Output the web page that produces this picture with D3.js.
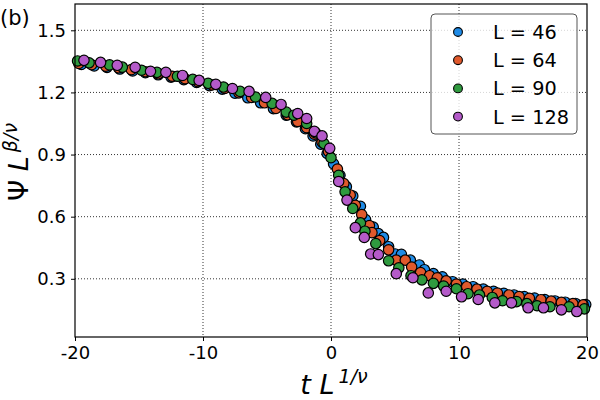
<!DOCTYPE html>
<html><head><meta charset="utf-8">
<script src="https://cdn.jsdelivr.net/npm/d3@7"></script>
<style>body{margin:0;background:#fff}svg{display:block;font-family:"DejaVu Sans",sans-serif}</style>
</head><body>
<svg id="c" width="600" height="400"></svg>
<script>
const seriesNames = ["L = 46", "L = 64", "L = 90", "L = 128"];
const seriesColors = ["#1f8be6", "#e0592c", "#2f9a3f", "#b45ac9"];
const xTicks = [-20, -10, 0, 10, 20];
const yTicks = [0.3, 0.6, 0.9, 1.2, 1.5];

const xL46 = [-19.5,-18.5,-17.5,-16.5,-15.5,-14.5,-13.5,-12.5,-11.5,-10.5,-9.5,-8.5,-7.5,-6.5,-5.5,-4.5,-3.5,-2.7,-2.0,-1.4,-0.8,-0.3,0.2,0.7,1.2,1.7,2.3,2.7,3.3,3.7,4.1,4.5,5.0,5.5,6.2,6.9,7.3,8.0,8.7,9.5,10.3,11.1,11.9,12.7,13.5,14.3,15.1,15.9,16.7,17.5,18.3,19.1,19.9];
const yL46 = [1.335,1.328,1.321,1.313,1.304,1.295,1.285,1.274,1.262,1.248,1.233,1.216,1.196,1.174,1.150,1.122,1.090,1.058,1.025,0.990,0.950,0.905,0.855,0.800,0.745,0.700,0.650,0.586,0.550,0.518,0.500,0.455,0.420,0.418,0.390,0.367,0.344,0.325,0.310,0.286,0.275,0.262,0.250,0.240,0.230,0.222,0.214,0.207,0.200,0.193,0.187,0.181,0.176];

const xL64 = [-19.7,-18.7,-17.6,-16.6,-15.6,-14.5,-13.5,-12.4,-11.4,-10.4,-9.3,-8.3,-7.2,-6.2,-5.2,-4.3,-3.4,-2.6,-1.9,-1.3,-0.7,-0.2,0.5,1.0,1.5,1.9,2.4,3.0,3.2,3.8,4.5,5.1,5.8,6.3,7.0,7.7,8.3,9.0,9.8,10.6,11.4,12.2,13.0,13.9,14.7,15.5,16.4,17.2,18.0,18.9,19.7];
const yL64 = [1.340,1.334,1.327,1.319,1.310,1.300,1.290,1.278,1.266,1.252,1.236,1.219,1.198,1.176,1.150,1.123,1.092,1.060,1.030,0.998,0.960,0.915,0.830,0.760,0.705,0.655,0.610,0.557,0.523,0.485,0.440,0.390,0.390,0.357,0.330,0.315,0.305,0.290,0.275,0.262,0.250,0.240,0.231,0.222,0.214,0.206,0.199,0.192,0.186,0.180,0.174];

const xL90 = [-19.8,-18.9,-17.3,-16.3,-14.8,-13.6,-12.0,-10.8,-9.6,-8.4,-7.1,-5.9,-4.6,-3.5,-2.9,-1.9,-1.2,-0.55,0.0,0.6,1.1,1.7,2.3,2.65,3.5,4.5,5.3,6.25,7.1,8.0,8.8,9.8,10.7,11.6,12.6,13.4,14.5,15.3,16.1,17.1,18.6,19.8];
const yL90 = [1.352,1.343,1.333,1.322,1.307,1.297,1.278,1.263,1.244,1.226,1.205,1.178,1.147,1.105,1.090,1.050,1.005,0.953,0.885,0.800,0.720,0.640,0.570,0.530,0.470,0.387,0.353,0.315,0.295,0.278,0.265,0.252,0.228,0.222,0.210,0.194,0.190,0.180,0.170,0.165,0.165,0.155];

const xL128 = [-19.3,-18.0,-16.7,-15.3,-14.1,-12.9,-11.6,-10.3,-9.0,-7.7,-6.4,-5.1,-3.9,-2.6,-1.9,-1.3,-0.7,-0.1,0.6,1.25,1.9,2.6,3.1,3.7,5.1,6.4,7.6,9.0,10.2,11.5,12.8,14.1,15.4,16.6,18.0,19.2];
const yL128 = [1.355,1.345,1.331,1.321,1.302,1.297,1.282,1.258,1.239,1.219,1.205,1.176,1.142,1.098,1.074,1.012,0.990,0.930,0.770,0.680,0.547,0.500,0.420,0.417,0.325,0.305,0.232,0.240,0.213,0.200,0.184,0.184,0.160,0.160,0.150,0.142];

const seriesX = [xL46, xL64, xL90, xL128];
const seriesY = [yL46, yL64, yL90, yL128];

const svg = d3.select("#c");
const mLeft = 75, mRight = 587, mTop = 4, mBottom = 337;
const x = d3.scaleLinear().domain([-20, 20]).range([mLeft, mRight]);
const y = d3.scaleLinear().domain([0.019, 1.627]).range([mBottom, mTop]);

// grid
const grid = svg.append("g").attr("stroke", "#000").attr("stroke-width", 0.8).attr("stroke-dasharray", "1,2");
grid.selectAll(".gx").data(xTicks.slice(1, -1)).join("line")
  .attr("x1", d => x(d)).attr("x2", d => x(d)).attr("y1", mTop).attr("y2", mBottom);
grid.selectAll(".gy").data(yTicks).join("line")
  .attr("y1", d => y(d)).attr("y2", d => y(d)).attr("x1", mLeft).attr("x2", mRight);

// points
seriesX.forEach((xs, i) => {
  const data = xs.map((v, j) => [v, seriesY[i][j]]);
  svg.append("g").selectAll("circle").data(data).join("circle")
    .attr("cx", d => x(d[0])).attr("cy", d => y(d[1])).attr("r", 5.2)
    .attr("fill", seriesColors[i]).attr("stroke", "#000").attr("stroke-width", 1.2);
});

// axes
const xAxis = d3.axisBottom(x).tickValues(xTicks).tickSize(4).tickPadding(5).tickFormat(d3.format("d"));
const yAxis = d3.axisLeft(y).tickValues(yTicks).tickSize(4).tickPadding(5).tickFormat(d3.format(".1f"));
const gx = svg.append("g").attr("transform", `translate(0,${mBottom})`).call(xAxis);
const gy = svg.append("g").attr("transform", `translate(${mLeft},0)`).call(yAxis);
[gx, gy].forEach(g => {
  g.select(".domain").remove();
  g.selectAll("text").attr("font-size", 18).attr("fill", "#000").attr("font-family", "DejaVu Sans");
  g.selectAll("line").attr("stroke", "#000").attr("stroke-width", 1);
});
gx.selectAll("text").text(d => d < 0 ? "-" + Math.abs(d) : d);

// frame
svg.append("rect").attr("x", mLeft).attr("y", mTop).attr("width", mRight - mLeft).attr("height", mBottom - mTop)
  .attr("fill", "none").attr("stroke", "#000").attr("stroke-width", 1.2);

// legend
const lg = svg.append("g");
lg.append("rect").attr("x", 431).attr("y", 14).attr("width", 146).attr("height", 120).attr("rx", 4)
  .attr("fill", "#fff").attr("fill-opacity", 0.8).attr("stroke", "#555").attr("stroke-width", 1);
seriesNames.forEach((n, i) => {
  const cy = 32 + i * 28.2;
  lg.append("circle").attr("cx", 458).attr("cy", cy).attr("r", 4.4)
    .attr("fill", seriesColors[i]).attr("stroke", "#000").attr("stroke-width", 1.1);
  lg.append("text").attr("x", 493).attr("y", cy + 7).attr("font-size", 19.3).attr("fill", "#000").text(n);
});

// labels
svg.append("text").attr("x", 0).attr("y", 25).attr("font-size", 21).text("(b)");
const xl = svg.append("text").attr("x", 334).attr("y", 394).attr("text-anchor", "middle").attr("font-size", 27);
xl.append("tspan").attr("font-style", "italic").text("t L");
xl.append("tspan").attr("font-size", 19).attr("dy", -11).attr("dx", 4).attr("font-style", "italic").text("1/ν");
const yl = svg.append("text").attr("transform", "translate(28,162) rotate(-90)").attr("text-anchor", "middle").attr("font-size", 27);
yl.append("tspan").text("Ψ ");
yl.append("tspan").attr("font-style", "italic").text("L");
yl.append("tspan").attr("font-size", 19).attr("dy", -11).attr("dx", 4).attr("font-style", "italic").text("β/ν");
</script>
</body></html>
